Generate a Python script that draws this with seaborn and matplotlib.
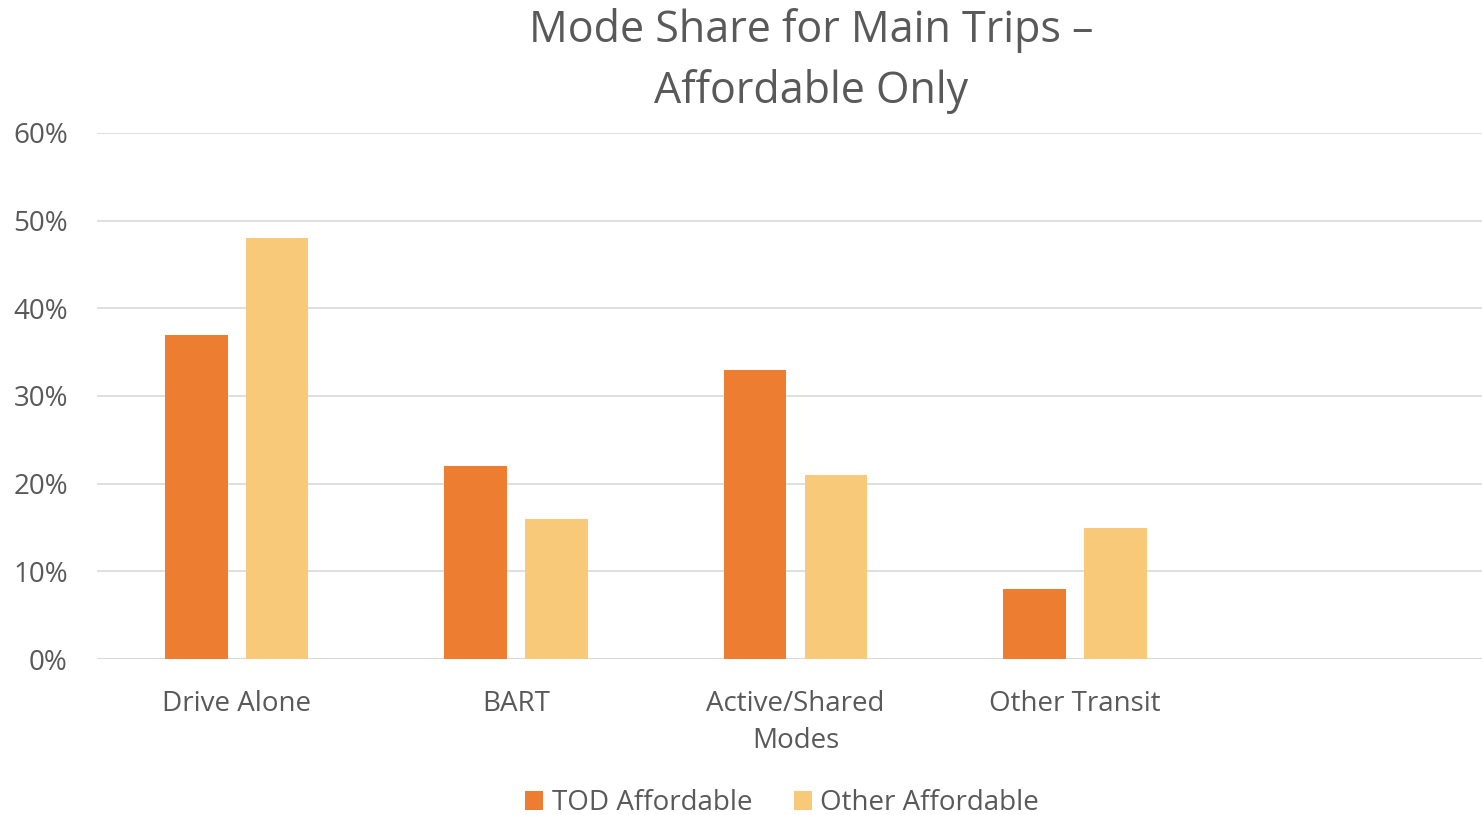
import matplotlib
matplotlib.use("Agg")
import matplotlib.pyplot as plt
import matplotlib.ticker as mtick
import seaborn as sns
import pandas as pd

modes = ["Drive Alone", "BART", "Active/Shared Modes", "Other Transit"]
mode_labels = ["Drive Alone", "BART", "Active/Shared\nModes", "Other Transit"]
tod_affordable = [0.37, 0.22, 0.33, 0.08]
other_affordable = [0.48, 0.16, 0.21, 0.15]
series = ["TOD Affordable", "Other Affordable"]
colors = ["#ED7D31", "#F9C97A"]

df = pd.DataFrame({
    "Mode": modes * 2,
    "Share": tod_affordable + other_affordable,
    "Group": [series[0]] * 4 + [series[1]] * 4,
})

sns.set_style("white")
plt.rcParams["font.family"] = ["Open Sans", "DejaVu Sans"]
grey = "#595959"

fig = plt.figure(figsize=(14.82, 8.15), dpi=100)
ax = fig.add_axes([97 / 1482, 1 - 659 / 815, 1 - 97 / 1482, (659 - 133) / 815])

sns.barplot(data=df, x="Mode", y="Share", hue="Group", order=modes,
            hue_order=series, palette=colors, width=0.578, gap=0.225,
            saturation=1, linewidth=0, ax=ax, legend=True)

# room for an empty fifth slot, as in the original chart
ax.set_xlim(-0.5, 4.457)
ax.set_ylim(0, 0.6)
ax.yaxis.set_major_locator(mtick.MultipleLocator(0.1))
ax.yaxis.set_major_formatter(mtick.PercentFormatter(1.0, decimals=0))
ax.grid(axis="y", color="#D9D9D9", linewidth=1.2)
ax.set_axisbelow(True)
ax.axhline(0, color="#D9D9D9", linewidth=2.2, zorder=0.5)
for s in ax.spines.values():
    s.set_visible(False)

ax.set_xticks(range(len(modes)))
ax.set_xticklabels(mode_labels, fontsize=20, color=grey, linespacing=1.45)
ax.tick_params(axis="x", length=0, pad=22)
ax.tick_params(axis="y", length=0, pad=21, labelsize=20, labelcolor=grey)
ax.set_xlabel("")
ax.set_ylabel("")

fig.text(811 / 1482, 1 - 61 / 815, "Mode Share for Main Trips –\nAffordable Only",
         ha="center", va="center", fontsize=31, color=grey, linespacing=1.45)

ax.get_legend().remove()
handles, labels = ax.get_legend_handles_labels()
fig.legend(handles, labels, loc="center", bbox_to_anchor=(782 / 1482, 1 - 803 / 815),
           ncol=2, frameon=False, fontsize=20, labelcolor=grey,
           handlelength=0.65, handleheight=0.65, handletextpad=0.3,
           columnspacing=1.5)

fig.savefig("out.png", dpi=100)
